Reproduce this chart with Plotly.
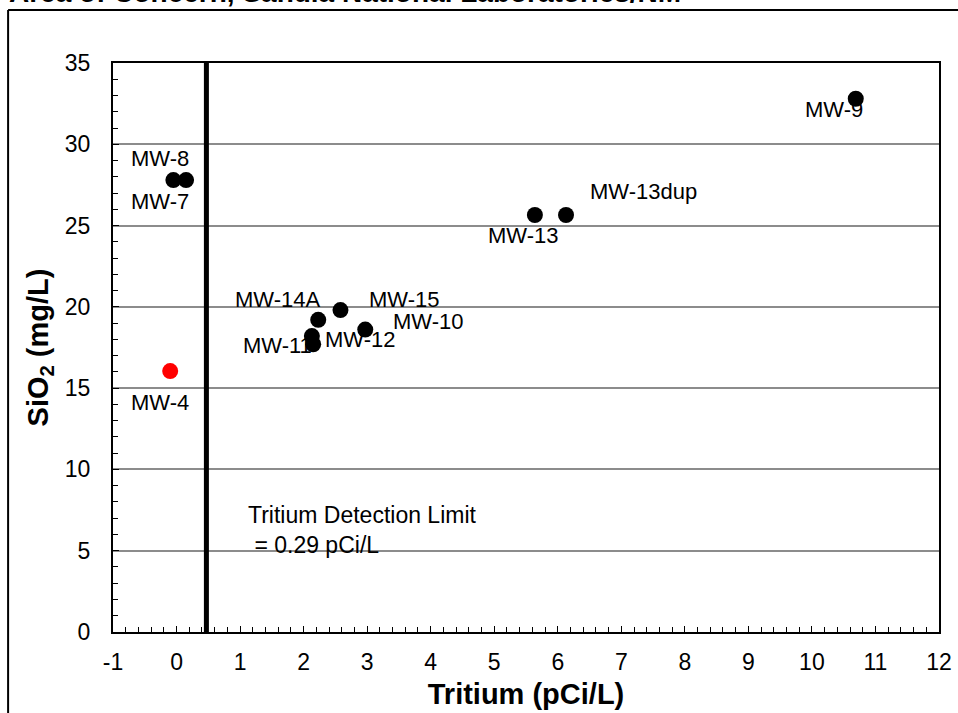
import plotly.graph_objects as go

# ---- data ----
wells = ["MW-9", "MW-13dup", "MW-13", "MW-8", "MW-7", "MW-4",
         "MW-15", "MW-14A", "MW-10", "MW-11", "MW-12"]
tritium = [10.69, 6.13, 5.64, 0.15, -0.05, -0.10, 2.58, 2.23, 2.97, 2.13, 2.15]
sio2 = [32.8, 25.65, 25.65, 27.8, 27.8, 16.05, 19.8, 19.2, 18.6, 18.2, 17.7]
point_colors = ["black", "black", "black", "black", "black", "red",
                "black", "black", "black", "black", "black"]
detection_limit_x = 0.47
detection_text = "Tritium Detection Limit<br> = 0.29 pCi/L"
x_ticks = list(range(-1, 13))
y_ticks = list(range(0, 40, 5))

# label offsets (pixels) relative to each point
label_offsets = {
    "MW-9": (-22, 11), "MW-13dup": (77, -24), "MW-13": (-11, 20),
    "MW-8": (-26, -22), "MW-7": (-13, 21), "MW-4": (-10, 31),
    "MW-15": (64, -11), "MW-14A": (-41, -20), "MW-10": (63, -8),
    "MW-11": (-34, 9), "MW-12": (47, -5),
}

FONT = "Liberation Sans, Arial, sans-serif"

fig = go.Figure()
fig.add_trace(go.Scatter(
    x=tritium, y=sio2, mode="markers",
    marker=dict(size=16, color=point_colors),
    showlegend=False, hoverinfo="skip"))

fig.add_shape(type="line", xref="x", yref="y",
              x0=detection_limit_x, x1=detection_limit_x, y0=0, y1=35,
              line=dict(color="black", width=5), layer="above")

for w, xv, yv in zip(wells, tritium, sio2):
    dx, dy = label_offsets[w]
    fig.add_annotation(x=xv, y=yv, xref="x", yref="y", text=w,
                       showarrow=True, arrowcolor="rgba(0,0,0,0)",
                       ax=dx, ay=dy, axref="pixel", ayref="pixel",
                       font=dict(family=FONT, size=22, color="black"))

fig.add_annotation(x=1.1, y=8.15, xref="x", yref="y", text=detection_text,
                   showarrow=False, xanchor="left", yanchor="top", align="left",
                   font=dict(family=FONT, size=23, color="black"))

# caption (clipped at the top of the page)
fig.add_annotation(x=-0.128, y=1.094, xref="paper", yref="paper",
                   text="<b>Area of Concern, Sandia National Laboratories/NM</b>",
                   showarrow=False, xanchor="left", yanchor="bottom",
                   font=dict(family=FONT, size=28, color="black"))

# outer frame
fig.add_shape(type="line", xref="paper", yref="paper",
              x0=-0.127, x1=-0.127, y0=-0.2, y1=1.093,
              line=dict(color="black", width=2))
fig.add_shape(type="line", xref="paper", yref="paper",
              x0=-0.127, x1=1.1, y0=1.093, y1=1.093,
              line=dict(color="black", width=2))

fig.update_layout(
    width=958, height=713,
    margin=dict(l=113, r=19, t=63, b=81, autoexpand=False),
    paper_bgcolor="white", plot_bgcolor="white",
    font=dict(family=FONT, size=23, color="black"),
    xaxis=dict(range=[-1, 12], tickvals=x_ticks, ticktext=[str(v) for v in x_ticks],
               showgrid=False, zeroline=False, automargin=False,
               showline=True, linecolor="black", linewidth=2, mirror=True,
               ticks="inside", ticklen=6, tickcolor="black", tickwidth=1,
               minor=dict(dtick=0.2, ticks="inside", ticklen=5, tickcolor="black", tickwidth=1),
               tickfont=dict(size=23), ticklabelstandoff=8,
               title=dict(text="<b>Tritium (pCi/L)</b>", font=dict(size=29), standoff=10)),
    yaxis=dict(range=[0, 35], tickvals=y_ticks, automargin=False,
               showgrid=True, gridcolor="#8c8c8c", gridwidth=2, zeroline=False,
               showline=True, linecolor="black", linewidth=2, mirror=True,
               ticks="inside", ticklen=6, tickcolor="black", tickwidth=1,
               minor=dict(dtick=1, ticks="inside", ticklen=5, tickcolor="black", tickwidth=1,
                          showgrid=False),
               tickfont=dict(size=23), ticklabelstandoff=16,
               title=dict(text="<b>SiO<sub>2</sub> (mg/L)</b>", font=dict(size=29), standoff=8)),
)

fig.write_html("out.html")
